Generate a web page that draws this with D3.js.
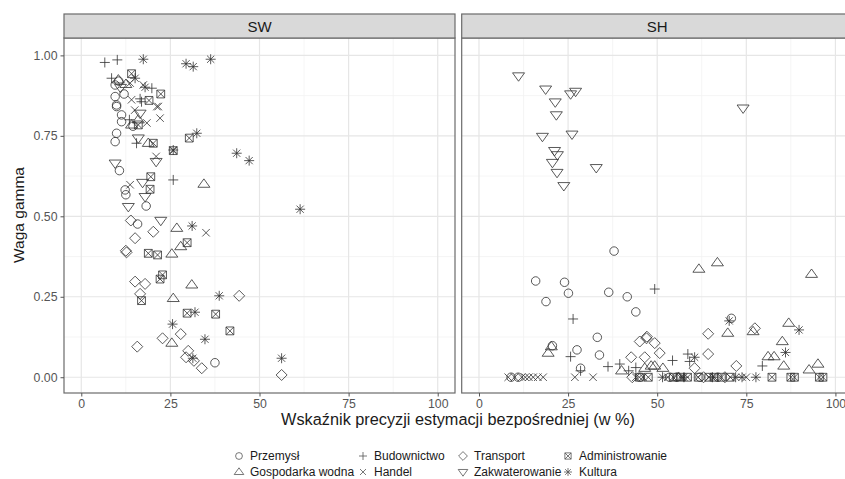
<!DOCTYPE html>
<html lang="pl">
<head>
<meta charset="UTF-8">
<title>Waga gamma</title>
<script src="https://cdnjs.cloudflare.com/ajax/libs/d3/7.8.5/d3.min.js"></script>
<style>
    body { margin: 0; background: #fff; }
    svg { display: block; font-family: "Liberation Sans", Arial, sans-serif; }
</style>
</head>
<body>
<svg id="chart" width="845" height="479"></svg>
<script>
// panels and sectors
const panels = ["SW", "SH"];
const sectors = ["Przemysł", "Gospodarka wodna", "Budownictwo", "Handel",
                 "Transport", "Zakwaterowanie", "Administrowanie", "Kultura"];
const xTicks = [0, 25, 50, 75, 100];
const yTicks = [0, 0.25, 0.5, 0.75, 1];

// SW panel: [precision %, gamma weight]
const swPrzemysl = [[9.9,0.846],[11.3,0.815],[11.3,0.794],[9.5,0.732],[9.9,0.758],[10.7,0.642],[12.3,0.582],
    [12.5,0.567],[18.2,0.532],[15.8,0.476],[37.5,0.045],[9.5,0.908],[9.5,0.872],[9.9,0.841],[10.5,0.92],[12,0.88],[14.5,0.78]];
const swGospodarka = [[14.1,0.784],[18.8,0.727],[34.4,0.60],[26.8,0.463],[27.9,0.406],[25.4,0.383],[31,0.287],
    [25.8,0.245],[25.4,0.106],[10.4,0.924],[12.5,0.91],[16,0.8]];
const swBudownictwo = [[6.6,0.978],[10.1,0.986],[16.9,0.856],[15.5,0.727],[25.8,0.613],[8.5,0.929],[19.8,0.898],
    [16.5,0.865],[13.5,0.8]];
const swHandel = [[21.6,0.841],[22.1,0.805],[18.4,0.79],[21,0.686],[13.7,0.598],[35,0.449],[13.7,0.914],[17.4,0.908],
    [14.1,0.862],[21.2,0.841],[15,0.83]];
const swTransport = [[13.9,0.487],[20.2,0.452],[15.1,0.432],[12.5,0.393],[12.7,0.388],[15.1,0.297],[17.9,0.29],
    [16.5,0.259],[44.3,0.253],[22.8,0.121],[27.9,0.134],[15.7,0.095],[30,0.082],[29.4,0.062],[31.6,0.051],[33.8,0.028],[56.2,0.007]];
const swZakwaterowanie = [[16.5,0.82],[16,0.743],[9.5,0.665],[21,0.67],[17.2,0.605],[17.9,0.561],[13.2,0.53],
    [22.3,0.487],[11,0.9]];
const swAdministrowanie = [[14.1,0.943],[22.3,0.88],[16,0.784],[20.2,0.727],[30.3,0.743],[25.8,0.704],[19.5,0.623],
    [19.3,0.584],[29.7,0.418],[18.8,0.385],[21.4,0.38],[22.1,0.305],[22.8,0.318],[16.9,0.238],[29.7,0.199],[37.7,0.196],
    [41.7,0.144],[19,0.86]];
const swKultura = [[17.4,0.988],[29.4,0.974],[31.4,0.965],[36.3,0.988],[15.1,0.929],[17.9,0.901],[32.4,0.758],
    [25.8,0.706],[43.6,0.696],[47.1,0.673],[31.1,0.47],[61.4,0.522],[38.7,0.253],[31.9,0.202],[25.6,0.165],[34.7,0.118],
    [31.3,0.059],[56.2,0.059]];

// SH panel
const shPrzemysl = [[37.9,0.392],[15.9,0.299],[24.0,0.295],[25.1,0.261],[18.8,0.235],[36.4,0.264],[41.6,0.25],
    [44,0.203],[33.2,0.124],[33.8,0.069],[27.5,0.085],[20.6,0.098],[28.5,0.028],[70.8,0.183],[9,0],[11,0],[45.1,0],
    [53.5,0],[55.5,0],[62,0],[67,0]];
const shGospodarka = [[19.4,0.075],[20.3,0.095],[40,0.02],[46.5,0.028],[48.3,0.035],[49.3,0.035],[51.6,0.028],
    [61.7,0.336],[66.9,0.356],[93.3,0.32],[69.8,0.137],[76.9,0.142],[86.9,0.168],[85.1,0.111],[81.1,0.064],[82.8,0.064],
    [85.5,0.035],[92.6,0.023],[95.1,0.041],[56,0]];
const shBudownictwo = [[49.3,0.274],[26.4,0.181],[25.7,0.064],[28.5,0.02],[36.2,0.033],[39.5,0.041],[58.6,0.072],
    [54.3,0.052],[59.1,0.049],[79.5,0.035],[42,0.02],[44,0.03]];
const shHandel = [[8.2,0],[10,0],[12,0],[13,0],[14,0],[15.2,0],[16.5,0],[18,0],[26.9,0],[32,0],[44,0],[46,0],
    [53,0],[57,0],[75,0]];
const shTransport = [[45.1,0.111],[47.1,0.126],[49.3,0.106],[42.7,0.062],[46.5,0.062],[50.7,0.075],[64.3,0.135],
    [64.3,0.072],[60.5,0.028],[72.2,0.035],[77.4,0.152],[47,0.121],[43,0],[63,0],[69,0]];
const shZakwaterowanie = [[11.1,0.936],[18.7,0.895],[25.7,0.880],[27.1,0.888],[21.4,0.855],[21.7,0.815],[74.1,0.836],
    [17.8,0.748],[26.1,0.755],[21.2,0.704],[22,0.691],[20.6,0.667],[21.9,0.636],[32.9,0.651],[23.8,0.595]];
const shAdministrowanie = [[45,0],[47.5,0],[54.5,0],[56.5,0],[58.5,0],[61.5,0],[64.5,0],[66,0],[68,0],[70.5,0],
    [82.2,0],[87.5,0],[88.5,0],[95.5,0],[96.5,0]];
const shKultura = [[70.2,0.175],[89.8,0.147],[86,0.077],[60.5,0.062],[51.5,0],[57.5,0],[65.5,0],[72,0],[73.8,0],[77.7,0]];

const panelData = {
    SW: [swPrzemysl, swGospodarka, swBudownictwo, swHandel, swTransport, swZakwaterowanie, swAdministrowanie, swKultura],
    SH: [shPrzemysl, shGospodarka, shBudownictwo, shHandel, shTransport, shZakwaterowanie, shAdministrowanie, shKultura]
};

// ggplot-like shapes, drawn around (0,0)
function shapePath(i, s) {
    const p = d3.path();
    if (i === 0) { p.moveTo(s * 0.85, 0); p.arc(0, 0, s * 0.85, 0, 2 * Math.PI); }
    else if (i === 1 || i === 5) {
        const h = s * 1.05, w = s * 1.2, dir = i === 1 ? 1 : -1;
        p.moveTo(0, -dir * h); p.lineTo(w, dir * h * 0.6); p.lineTo(-w, dir * h * 0.6); p.closePath();
    }
    else if (i === 2) { p.moveTo(-s, 0); p.lineTo(s, 0); p.moveTo(0, -s); p.lineTo(0, s); }
    else if (i === 3) { const a = s * 0.75; p.moveTo(-a, -a); p.lineTo(a, a); p.moveTo(-a, a); p.lineTo(a, -a); }
    else if (i === 4) { const a = s * 1.1; p.moveTo(0, -a); p.lineTo(a, 0); p.lineTo(0, a); p.lineTo(-a, 0); p.closePath(); }
    else if (i === 6) {
        const a = s * 0.78; p.rect(-a, -a, 2 * a, 2 * a);
        p.moveTo(-a, -a); p.lineTo(a, a); p.moveTo(-a, a); p.lineTo(a, -a);
    }
    else if (i === 7) {
        const a = s * 0.72;
        p.moveTo(-s, 0); p.lineTo(s, 0); p.moveTo(0, -s); p.lineTo(0, s);
        p.moveTo(-a, -a); p.lineTo(a, a); p.moveTo(-a, a); p.lineTo(a, -a);
    }
    return p.toString();
}

const svg = d3.select("#chart");
const plotTop = 38, plotBottom = 393, panelW = 391;
const panelX = { SW: 64, SH: 461.7 };

const y = d3.scaleLinear().domain([-0.049, 1.054]).range([plotBottom, plotTop]);

panels.forEach(name => {
    const x0 = panelX[name];
    const x = d3.scaleLinear().domain([-4.85, 104.85]).range([x0, x0 + panelW]);
    const g = svg.append("g");

    g.append("rect").attr("x", x0).attr("y", plotTop).attr("width", panelW).attr("height", plotBottom - plotTop)
        .attr("fill", "#fff");

    // minor and major grid
    const minorX = [12.5, 37.5, 62.5, 87.5], minorY = [0.125, 0.375, 0.625, 0.875];
    g.append("g").selectAll("line").data(minorX).join("line")
        .attr("x1", d => x(d)).attr("x2", d => x(d)).attr("y1", plotTop).attr("y2", plotBottom)
        .attr("stroke", "#f2f2f2").attr("stroke-width", 0.8);
    g.append("g").selectAll("line").data(minorY).join("line")
        .attr("y1", d => y(d)).attr("y2", d => y(d)).attr("x1", x0).attr("x2", x0 + panelW)
        .attr("stroke", "#f2f2f2").attr("stroke-width", 0.8);
    g.append("g").selectAll("line").data(xTicks).join("line")
        .attr("x1", d => x(d)).attr("x2", d => x(d)).attr("y1", plotTop).attr("y2", plotBottom)
        .attr("stroke", "#e6e6e6").attr("stroke-width", 1.2);
    g.append("g").selectAll("line").data(yTicks).join("line")
        .attr("y1", d => y(d)).attr("y2", d => y(d)).attr("x1", x0).attr("x2", x0 + panelW)
        .attr("stroke", "#e6e6e6").attr("stroke-width", 1.2);

    // points
    panelData[name].forEach((pts, si) => {
        g.append("g").selectAll("path").data(pts).join("path")
            .attr("transform", d => `translate(${x(d[0])},${y(d[1])})`)
            .attr("d", shapePath(si, 5))
            .attr("fill", "none").attr("stroke", "#333").attr("stroke-width", 0.9)
            .attr("stroke-opacity", 0.9);
    });

    // border
    g.append("rect").attr("x", x0).attr("y", plotTop).attr("width", panelW).attr("height", plotBottom - plotTop)
        .attr("fill", "none").attr("stroke", "#6b6b6b").attr("stroke-width", 1.2);

    // strip
    g.append("rect").attr("x", x0).attr("y", 14).attr("width", panelW).attr("height", plotTop - 14)
        .attr("fill", "#d9d9d9").attr("stroke", "#6b6b6b").attr("stroke-width", 1.2);
    g.append("text").attr("x", x0 + panelW / 2).attr("y", 31.5).attr("text-anchor", "middle")
        .attr("font-size", 15).attr("fill", "#1a1a1a").text(name);

    // x axis
    const xAxis = d3.axisBottom(x).tickValues(xTicks).tickSize(3.5).tickPadding(3).tickFormat(d3.format("d"));
    const ax = g.append("g").attr("transform", `translate(0,${plotBottom})`).call(xAxis);
    ax.select(".domain").remove();
    ax.selectAll("line").attr("stroke", "#555");
    ax.selectAll("text").attr("font-size", 12.3).attr("fill", "#555").attr("font-family", "Liberation Sans, Arial, sans-serif");
});

// y axis on left panel
const yAxis = d3.axisLeft(y).tickValues(yTicks).tickSize(3.5).tickPadding(3).tickFormat(d3.format(".2f"));
const ay = svg.append("g").attr("transform", `translate(${panelX.SW},0)`).call(yAxis);
ay.select(".domain").remove();
ay.selectAll("line").attr("stroke", "#555");
ay.selectAll("text").attr("font-size", 12.3).attr("fill", "#555").attr("font-family", "Liberation Sans, Arial, sans-serif");

// axis titles
svg.append("text").attr("x", 458).attr("y", 425).attr("text-anchor", "middle")
    .attr("font-size", 16.3).attr("fill", "#1a1a1a").text("Wskaźnik precyzji estymacji bezpośredniej (w %)");
svg.append("text").attr("transform", "translate(24,215) rotate(-90)").attr("text-anchor", "middle")
    .attr("font-size", 15.5).attr("fill", "#1a1a1a").text("Waga gamma");

// legend, filled column by column
const legendCols = [239, 363, 463, 568];
const legendRows = [456, 472];
const legend = svg.append("g");
sectors.forEach((s, i) => {
    const cx = legendCols[Math.floor(i / 2)], cy = legendRows[i % 2];
    legend.append("path").attr("transform", `translate(${cx},${cy})`).attr("d", shapePath(i, 4))
        .attr("fill", "none").attr("stroke", "#555").attr("stroke-width", 0.8);
    legend.append("text").attr("x", cx + 11).attr("y", cy + 4.2).attr("font-size", 12)
        .attr("fill", "#1a1a1a").text(s);
});
</script>
</body>
</html>
